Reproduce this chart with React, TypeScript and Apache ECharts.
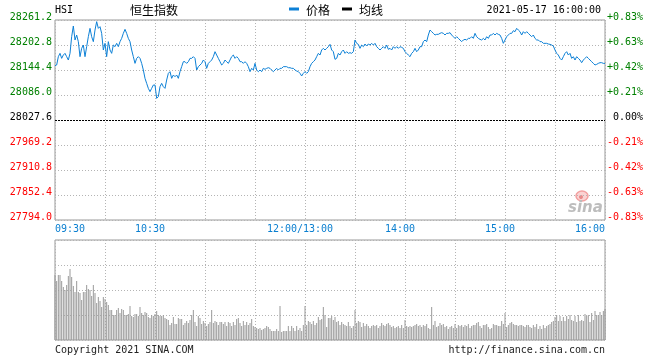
import React, { useEffect, useRef } from 'react';
import * as echarts from 'echarts';

const priceTickLabels = ['27794.0', '27852.4', '27910.8', '27969.2', '28027.6', '28086.0', '28144.4', '28202.8', '28261.2'];
const pctTickLabels = ['-0.83%', '-0.63%', '-0.42%', '-0.21%', '0.00%', '+0.21%', '+0.42%', '+0.63%', '+0.83%'];
const timeTickMinutes = [0, 60, 150, 210, 270, 330];
const timeTickLabels = ['09:30', '10:30', '12:00/13:00', '14:00', '15:00', '16:00'];
const prevClose = 28027.6;
const priceMin = 27794.0;
const priceMax = 28261.2;

// one price per trading minute (0 = 09:30 ... 330 = 16:00)
const prices = [
  28154.5, 28156.1, 28175.5, 28183.3, 28171.6, 28179.4, 28183.3, 28175.5, 28167.7, 28183.3,
  28222.2, 28247.2, 28214.5, 28226.1, 28210.6, 28175.5, 28195.0, 28202.8, 28175.5, 28198.9,
  28222.2, 28241.7, 28222.2, 28210.6, 28237.8, 28257.3, 28241.7, 28245.6, 28230.0, 28191.1,
  28206.7, 28175.5, 28210.6, 28191.1, 28183.3, 28202.8, 28198.9, 28206.7, 28198.9, 28210.6,
  28218.3, 28230.0, 28239.4, 28230.0, 28218.3, 28210.6, 28191.1, 28175.5, 28159.9, 28171.6,
  28175.5, 28171.6, 28159.9, 28144.4, 28124.9, 28113.2, 28101.5, 28093.8, 28101.5, 28109.3,
  28109.3, 28078.2, 28082.1, 28105.4, 28113.2, 28105.4, 28101.5, 28121.0, 28136.6, 28140.5,
  28124.9, 28132.7, 28128.8, 28132.7, 28124.9, 28140.5, 28152.2, 28163.8, 28163.8, 28159.9,
  28163.8, 28171.6, 28171.6, 28175.5, 28171.6, 28144.4, 28152.2, 28156.1, 28159.9, 28167.7,
  28163.8, 28148.3, 28159.9, 28163.8, 28167.7, 28175.5, 28187.2, 28179.4, 28171.6, 28163.8,
  28156.1, 28159.9, 28167.7, 28163.8, 28159.9, 28167.7, 28175.5, 28179.4, 28171.6, 28175.5,
  28171.6, 28163.8, 28163.8, 28159.9, 28163.8, 28159.9, 28152.2, 28140.5, 28148.3, 28144.4,
  28159.9, 28144.4, 28140.5, 28144.4, 28140.5, 28148.3, 28145.9, 28148.3, 28149.8, 28148.3,
  28144.4, 28140.5, 28144.4, 28148.3, 28144.4, 28148.3, 28148.3, 28152.2, 28152.2, 28152.2,
  28149.8, 28149.8, 28148.3, 28148.3, 28144.4, 28142.0, 28140.5, 28136.6, 28130.4, 28136.6,
  28140.5, 28136.6, 28140.5, 28152.2, 28159.9, 28163.8, 28167.7, 28175.5, 28183.3, 28179.4,
  28191.1, 28195.0, 28191.1, 28195.0, 28198.9, 28204.3, 28191.1, 28187.2, 28169.3, 28171.6,
  28183.3, 28179.4, 28187.2, 28191.1, 28183.3, 28187.2, 28183.3, 28184.9, 28183.3, 28187.2,
  28214.5, 28206.7, 28204.3, 28195.0, 28202.8, 28198.9, 28205.1, 28200.4, 28205.1, 28202.8,
  28206.7, 28202.8, 28206.7, 28198.9, 28195.0, 28191.1, 28195.0, 28198.9, 28195.0, 28202.8,
  28192.7, 28195.0, 28191.1, 28198.9, 28195.0, 28198.9, 28195.0, 28198.9, 28197.3, 28195.0,
  28187.2, 28183.3, 28179.4, 28175.5, 28183.3, 28187.2, 28195.0, 28187.2, 28191.1, 28198.9,
  28198.9, 28210.6, 28214.5, 28210.6, 28226.1, 28237.8, 28233.9, 28230.0, 28226.1, 28227.7,
  28227.7, 28230.0, 28231.6, 28230.0, 28226.1, 28230.0, 28230.0, 28231.6, 28226.1, 28222.2,
  28218.3, 28222.2, 28218.3, 28214.5, 28210.6, 28214.5, 28216.0, 28214.5, 28218.3, 28218.3,
  28222.2, 28218.3, 28230.0, 28222.2, 28218.3, 28216.0, 28214.5, 28218.3, 28214.5, 28222.2,
  28218.3, 28226.1, 28226.1, 28230.0, 28226.1, 28230.0, 28227.7, 28226.1, 28218.3, 28206.7,
  28214.5, 28222.2, 28226.1, 28230.0, 28230.0, 28236.3, 28233.9, 28241.7, 28237.8, 28233.9,
  28226.1, 28233.9, 28230.0, 28233.9, 28230.0, 28226.1, 28222.2, 28226.1, 28218.3, 28214.5,
  28214.5, 28210.6, 28210.6, 28206.7, 28206.7, 28206.7, 28205.1, 28204.3, 28202.8, 28200.4,
  28191.1, 28183.3, 28179.4, 28171.6, 28167.7, 28175.5, 28183.3, 28187.2, 28179.4, 28183.3,
  28171.6, 28175.5, 28167.7, 28175.5, 28171.6, 28167.7, 28161.5, 28167.7, 28171.6, 28175.5,
  28171.6, 28167.7, 28163.8, 28159.9, 28156.1, 28157.6, 28159.9, 28161.5, 28161.5, 28159.9, 28159.9,
];

// relative volume per minute (axis max = 100)
const volumes = [
  65, 59, 65, 65, 59, 53, 50, 55, 64, 71,
  63, 54, 48, 59, 48, 47, 40, 48, 48, 55,
  51, 50, 44, 55, 47, 37, 43, 39, 33, 43,
  41, 38, 35, 30, 30, 25, 25, 30, 32, 27,
  31, 30, 25, 25, 26, 34, 24, 23, 26, 26,
  24, 33, 27, 25, 28, 27, 23, 22, 25, 24,
  26, 29, 25, 24, 24, 25, 22, 21, 20, 15,
  17, 23, 16, 16, 22, 21, 21, 15, 17, 19,
  17, 20, 25, 30, 18, 14, 24, 22, 16, 19,
  17, 14, 16, 18, 30, 17, 19, 18, 15, 18,
  18, 16, 18, 14, 18, 17, 14, 18, 15, 21,
  22, 17, 14, 19, 15, 18, 15, 17, 21, 14,
  13, 12, 11, 12, 10, 11, 12, 14, 13, 11,
  9, 9, 9, 11, 9, 34, 8, 9, 9, 9,
  14, 9, 14, 12, 9, 14, 10, 12, 9, 15,
  34, 15, 19, 18, 16, 19, 15, 17, 23, 20,
  21, 33, 25, 13, 22,
  22, 24, 20, 23, 18, 19, 15, 18, 16, 15,
  14, 18, 14, 12, 14, 30, 17, 19, 18, 13,
  17, 14, 16, 14, 12, 14, 15, 14, 15, 12,
  14, 17, 15, 14, 16, 17, 15, 13, 14, 12,
  13, 14, 12, 15, 12, 20, 14, 13, 14, 13,
  14, 15, 16, 14, 15, 13, 15, 14, 16, 12,
  11, 33, 15, 19, 13, 14, 17, 15, 16, 13,
  14, 11, 13, 14, 12, 16, 12, 15, 14, 15,
  13, 15, 14, 16, 12, 14, 15, 15, 17, 18,
  14, 12, 15, 15, 16, 13, 11, 12, 16, 15,
  15, 14, 14, 19, 16, 27, 13, 15, 17, 18,
  16, 15, 15, 14, 15, 15, 14, 13, 15, 15,
  13, 12, 15, 13, 16, 11, 14, 11, 15, 12,
  14, 15, 16, 18, 19, 23, 25, 19, 24, 19,
  23, 19, 24, 21, 25, 20, 19, 24, 18, 25,
  19, 20, 19, 26, 24, 25, 18, 27, 20, 29,
  25, 25, 28, 25, 29, 31,
];

export default function App() {
  const ref = useRef<HTMLDivElement>(null);

  useEffect(() => {
    if (!ref.current) return;
    const chart = echarts.init(ref.current, null, { renderer: 'svg' });
    const mono = 'DejaVu Sans Mono';
    const cjk = 'Noto Sans CJK SC';
    const border = '#999999';
    const dotted = { color: '#b4b4b4', type: [1, 2] as any, width: 1 };
    const tickColor = (v: number) => (v > 4 ? '#008000' : v === 4 ? '#000000' : '#ff0000');
    const lineColor = '#0d80d6';

    const priceData = prices.map((p, i) => [i, p]);
    const volData = volumes.map((v, i) => [i, v]);

    chart.setOption({
      animation: false,
      textStyle: { fontFamily: mono },
      grid: [
        { left: 55, top: 20, width: 550, height: 200, show: true, borderColor: border, borderWidth: 1, backgroundColor: 'transparent' },
        { left: 55, top: 240, width: 550, height: 100, show: true, borderColor: border, borderWidth: 1, backgroundColor: 'transparent' },
      ],
      legend: {
        data: ['价格', '均线'],
        left: 284,
        top: -2,
        icon: 'rect',
        itemWidth: 10,
        itemHeight: 3,
        itemGap: 12,
        textStyle: { fontFamily: cjk, fontSize: 12, color: '#000', padding: [0, 0, 0, 2] },
        selectedMode: false,
      },
      xAxis: [
        {
          type: 'value', gridIndex: 0, min: 0, max: 330, interval: 30,
          axisLine: { show: false }, axisTick: { show: false },
          splitLine: { show: true, lineStyle: dotted },
          axisLabel: {
            margin: 3,
            fontFamily: mono,
            fontSize: 10,
            color: '#0a7fd0',
            formatter: (v: number) => {
              const k = timeTickMinutes.indexOf(Number(v));
              if (k < 0) return '';
              const style = k === 0 ? 'f' : k === timeTickMinutes.length - 1 ? 'l' : 'm';
              return '{' + style + '|' + timeTickLabels[k] + '}';
            },
            rich: {
              f: { fontFamily: mono, fontSize: 10, color: '#0a7fd0', padding: [0, 0, 0, 30] },
              l: { fontFamily: mono, fontSize: 10, color: '#0a7fd0', padding: [0, 30, 0, 0] },
              m: { fontFamily: mono, fontSize: 10, color: '#0a7fd0', padding: [0, 10, 0, 0] },
            },
          },
        },
        {
          type: 'value', gridIndex: 1, min: 0, max: 330, interval: 30,
          axisLine: { show: false }, axisTick: { show: false }, axisLabel: { show: false },
          splitLine: { show: true, lineStyle: dotted },
        },
      ],
      yAxis: [
        {
          type: 'value', gridIndex: 0, min: 0, max: 8, interval: 1, position: 'left',
          axisLine: { show: false }, axisTick: { show: false },
          splitLine: { show: true, lineStyle: dotted },
          axisLabel: {
            margin: 3, fontFamily: mono, fontSize: 10, verticalAlign: 'bottom', lineHeight: 8,
            formatter: (v: number) => priceTickLabels[Number(v)] ?? '',
            color: (v: any) => tickColor(Number(v)),
          },
        },
        {
          type: 'value', gridIndex: 0, min: 0, max: 8, interval: 1, position: 'right',
          axisLine: { show: false }, axisTick: { show: false },
          splitLine: { show: false },
          axisLabel: {
            margin: 38, align: 'right', fontFamily: mono, fontSize: 10, verticalAlign: 'bottom', lineHeight: 8,
            formatter: (v: number) => pctTickLabels[Number(v)] ?? '',
            color: (v: any) => tickColor(Number(v)),
          },
        },
        { type: 'value', gridIndex: 0, min: priceMin, max: priceMax, show: false, splitLine: { show: false } },
        {
          type: 'value', gridIndex: 1, min: 0, max: 100, interval: 25,
          axisLine: { show: false }, axisTick: { show: false }, axisLabel: { show: false },
          splitLine: { show: true, lineStyle: dotted },
        },
      ],
      series: [
        {
          name: '价格', type: 'line', xAxisIndex: 0, yAxisIndex: 2, data: priceData,
          symbol: 'none', lineStyle: { color: lineColor, width: 1 }, itemStyle: { color: lineColor },
          z: 5,
          markLine: {
            silent: true, symbol: ['none', 'none'], label: { show: false },
            lineStyle: { color: '#000', type: [2, 1], width: 1 },
            data: [{ yAxis: prevClose }],
          },
        },
        {
          name: '均线', type: 'line', xAxisIndex: 0, yAxisIndex: 2, data: [],
          symbol: 'none', lineStyle: { color: '#000', width: 1 }, itemStyle: { color: '#000' },
        },
        {
          name: '成交量', type: 'bar', xAxisIndex: 1, yAxisIndex: 3, data: volData,
          barWidth: 1, itemStyle: { color: '#9a9a9a' },
        },
      ],
      graphic: [
        { type: 'text', left: 55, top: 4, style: { text: 'HSI', font: '10px "DejaVu Sans Mono"', fill: '#000' } },
        { type: 'text', left: 130, top: 3, style: { text: '恒生指数', font: '12px "Noto Sans CJK SC"', fill: '#000' } },
        { type: 'text', right: 59, top: 4, style: { text: '2021-05-17 16:00:00', font: '10px "DejaVu Sans Mono"', fill: '#000' } },
        { type: 'text', left: 55, top: 344, style: { text: 'Copyright 2021 SINA.COM', font: '10px "DejaVu Sans Mono"', fill: '#222' } },
        { type: 'text', right: 55, top: 344, style: { text: 'http://finance.sina.com.cn', font: '10px "DejaVu Sans Mono"', fill: '#222' } },
        { type: 'ellipse', shape: { cx: 582, cy: 196, rx: 6, ry: 5 }, style: { fill: '#fbd3d3', stroke: '#f3a0a0', lineWidth: 1.5 } },
        { type: 'circle', shape: { cx: 581, cy: 197, r: 2 }, style: { fill: '#e88a8a' } },
        { type: 'text', x: 568, y: 199, style: { text: 'sina', font: 'italic bold 15px "DejaVu Sans"', fill: '#bdbdbd' } },
      ],
    });

    return () => chart.dispose();
  }, []);

  return <div ref={ref} style={{ position: 'fixed', left: 0, top: 0, width: 660, height: 360 }} />;
}
